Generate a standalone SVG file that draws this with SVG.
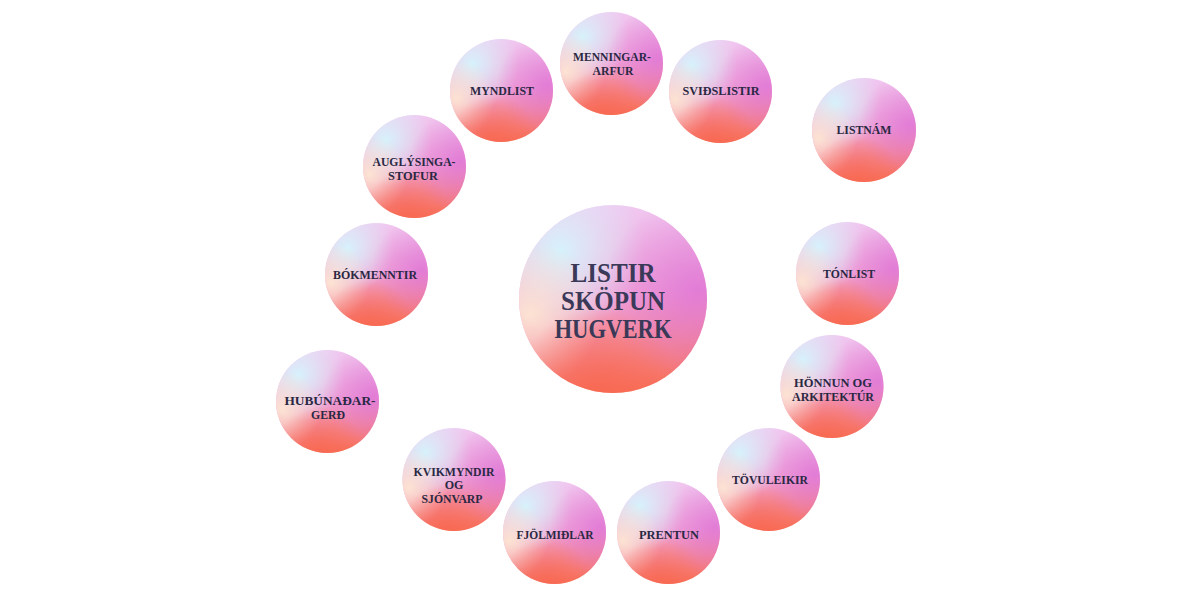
<svg xmlns="http://www.w3.org/2000/svg" xmlns:xlink="http://www.w3.org/1999/xlink" width="1200" height="601" viewBox="0 0 1200 601">
<style>
.lbl{font-family:"Liberation Serif","DejaVu Serif",serif;font-weight:bold;font-size:12px;fill:#2a2843;text-anchor:middle}
.big{font-family:"Liberation Serif","DejaVu Serif",serif;font-weight:bold;font-size:27px;fill:#3b3958;text-anchor:middle}
</style>
<defs>
<linearGradient id="gBase" x1="0.4" y1="0" x2="0.5" y2="1">
<stop offset="0" stop-color="#f0caf2"/>
<stop offset="0.5" stop-color="#f0a2d6"/>
<stop offset="1" stop-color="#f8705a"/>
</linearGradient>
<radialGradient id="gCyan" cx="0.22" cy="0.24" r="0.45">
<stop offset="0" stop-color="#d6f2fb" stop-opacity="1"/>
<stop offset="0.4" stop-color="#dcecf8" stop-opacity="0.7"/>
<stop offset="1" stop-color="#dcecf8" stop-opacity="0"/>
</radialGradient>
<radialGradient id="gMag" cx="0.95" cy="0.45" r="0.5">
<stop offset="0" stop-color="#dc6cd6" stop-opacity="0.7"/>
<stop offset="1" stop-color="#dc6cd6" stop-opacity="0"/>
</radialGradient>
<radialGradient id="gCream" cx="0.06" cy="0.58" r="0.38">
<stop offset="0" stop-color="#fde6d2" stop-opacity="0.95"/>
<stop offset="1" stop-color="#fde6d2" stop-opacity="0"/>
</radialGradient>
<radialGradient id="gCoral" cx="0.42" cy="1" r="0.45">
<stop offset="0" stop-color="#f8664e" stop-opacity="0.75"/>
<stop offset="1" stop-color="#f8664e" stop-opacity="0"/>
</radialGradient>
<symbol id="ball" viewBox="0 0 100 100">
<circle cx="50" cy="50" r="50" fill="url(#gBase)"/>
<circle cx="50" cy="50" r="50" fill="url(#gCyan)"/>
<circle cx="50" cy="50" r="50" fill="url(#gMag)"/>
<circle cx="50" cy="50" r="50" fill="url(#gCream)"/>
<circle cx="50" cy="50" r="50" fill="url(#gCoral)"/>
</symbol>
</defs>
<rect width="1200" height="601" fill="#ffffff"/>
<g id="connectors"/>

<g id="center">
<use xlink:href="#ball" href="#ball" x="519" y="205" width="188" height="188"/>
<text class="big" x="613" y="282" textLength="85" lengthAdjust="spacingAndGlyphs">LISTIR</text>
<text class="big" x="613" y="310" textLength="104" lengthAdjust="spacingAndGlyphs">SKÖPUN</text>
<text class="big" x="613" y="338" textLength="117" lengthAdjust="spacingAndGlyphs">HUGVERK</text>
</g>

<g id="menningararfur">
<use xlink:href="#ball" href="#ball" x="560" y="12" width="103" height="103"/>
<text class="lbl" x="612" y="61" textLength="78" lengthAdjust="spacingAndGlyphs">MENNINGAR-</text>
<text class="lbl" x="613" y="75" textLength="41" lengthAdjust="spacingAndGlyphs">ARFUR</text>
</g>

<g id="myndlist">
<use xlink:href="#ball" href="#ball" x="450" y="39" width="103" height="103"/>
<text class="lbl" x="502" y="95" textLength="64" lengthAdjust="spacingAndGlyphs">MYNDLIST</text>
</g>

<g id="svidslistir">
<use xlink:href="#ball" href="#ball" x="669" y="40" width="103" height="103"/>
<text class="lbl" x="721" y="95" textLength="77" lengthAdjust="spacingAndGlyphs">SVIÐSLISTIR</text>
</g>

<g id="listnam">
<use xlink:href="#ball" href="#ball" x="812" y="78" width="104" height="104"/>
<text class="lbl" x="864" y="134" textLength="55" lengthAdjust="spacingAndGlyphs">LISTNÁM</text>
</g>

<g id="auglysingastofur">
<use xlink:href="#ball" href="#ball" x="363" y="115" width="103" height="103"/>
<text class="lbl" x="414" y="166" textLength="83" lengthAdjust="spacingAndGlyphs">AUGLÝSINGA-</text>
<text class="lbl" x="413" y="180" textLength="50" lengthAdjust="spacingAndGlyphs">STOFUR</text>
</g>

<g id="bokmenntir">
<use xlink:href="#ball" href="#ball" x="325" y="223" width="103" height="103"/>
<text class="lbl" x="375" y="279" textLength="84" lengthAdjust="spacingAndGlyphs">BÓKMENNTIR</text>
</g>

<g id="tonlist">
<use xlink:href="#ball" href="#ball" x="796" y="222" width="103" height="103"/>
<text class="lbl" x="849" y="278" textLength="52" lengthAdjust="spacingAndGlyphs">TÓNLIST</text>
</g>

<g id="hugbunadargerd">
<use xlink:href="#ball" href="#ball" x="276" y="350" width="103" height="103"/>
<text class="lbl" x="330" y="405" textLength="91" lengthAdjust="spacingAndGlyphs">HUBÚNAÐAR-</text>
<text class="lbl" x="328" y="419" textLength="34" lengthAdjust="spacingAndGlyphs">GERÐ</text>
</g>

<g id="honnun">
<use xlink:href="#ball" href="#ball" x="780" y="335" width="104" height="103"/>
<text class="lbl" x="833" y="387" textLength="78" lengthAdjust="spacingAndGlyphs">HÖNNUN OG</text>
<text class="lbl" x="833" y="401" textLength="82" lengthAdjust="spacingAndGlyphs">ARKITEKTÚR</text>
</g>

<g id="kvikmyndir">
<use xlink:href="#ball" href="#ball" x="402" y="428" width="104" height="103"/>
<text class="lbl" x="454" y="476" textLength="81" lengthAdjust="spacingAndGlyphs">KVIKMYNDIR</text>
<text class="lbl" x="454" y="489">OG</text>
<text class="lbl" x="452" y="503" textLength="61" lengthAdjust="spacingAndGlyphs">SJÓNVARP</text>
</g>

<g id="tolvuleikir">
<use xlink:href="#ball" href="#ball" x="717" y="428" width="103" height="103"/>
<text class="lbl" x="770" y="484" textLength="76" lengthAdjust="spacingAndGlyphs">TÖVULEIKIR</text>
</g>

<g id="fjolmidlar">
<use xlink:href="#ball" href="#ball" x="503" y="481" width="103" height="103"/>
<text class="lbl" x="555" y="539" textLength="77" lengthAdjust="spacingAndGlyphs">FJÖLMIÐLAR</text>
</g>

<g id="prentun">
<use xlink:href="#ball" href="#ball" x="617" y="481" width="103" height="103"/>
<text class="lbl" x="669" y="539" textLength="60" lengthAdjust="spacingAndGlyphs">PRENTUN</text>
</g>
</svg>
